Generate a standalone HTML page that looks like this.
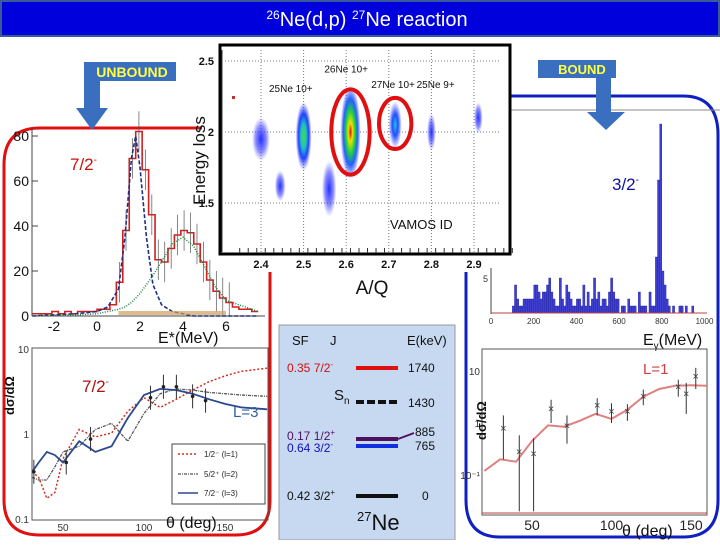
<!DOCTYPE html>
<html><head><meta charset="utf-8">
<style>
html,body{margin:0;padding:0;background:#fff;}
body{width:720px;height:540px;overflow:hidden;font-family:"Liberation Sans",sans-serif;}
svg text{font-family:"Liberation Sans",sans-serif;}
</style></head>
<body>
<svg id="s" width="720" height="540" viewBox="0 0 720 540" xmlns="http://www.w3.org/2000/svg">
<defs>
<radialGradient id="gRed"><stop offset="0" stop-color="#e00000"/><stop offset="0.2" stop-color="#f0e000"/><stop offset="0.45" stop-color="#20d040"/><stop offset="0.7" stop-color="#2060ff"/><stop offset="1" stop-color="#4040ff" stop-opacity="0"/></radialGradient>
<radialGradient id="gGreen"><stop offset="0" stop-color="#40e040"/><stop offset="0.35" stop-color="#20c0c0"/><stop offset="0.65" stop-color="#2040ff"/><stop offset="1" stop-color="#4040ff" stop-opacity="0"/></radialGradient>
<radialGradient id="gCyan"><stop offset="0" stop-color="#20c0e0"/><stop offset="0.45" stop-color="#2050ff"/><stop offset="1" stop-color="#4040ff" stop-opacity="0"/></radialGradient>
<radialGradient id="gBlue"><stop offset="0" stop-color="#2030ff"/><stop offset="0.6" stop-color="#4040ff" stop-opacity="0.6"/><stop offset="1" stop-color="#6060ff" stop-opacity="0"/></radialGradient>
</defs>

<rect x="1" y="1" width="718" height="35" fill="#0000dd" stroke="#3a5a9a" stroke-width="2"/>
<text x="367" y="26" text-anchor="middle" fill="#fff" font-size="20"><tspan font-size="12" dy="-7">26</tspan><tspan dy="7">Ne(d,p) </tspan><tspan font-size="12" dy="-7">27</tspan><tspan dy="7">Ne reaction</tspan></text>

<path d="M202,128 L40,128 Q4,128 4,165 L4,500 Q4,535 40,535 L236,535 Q270,535 270,500 L270,272" fill="none" stroke="#e01010" stroke-width="3"/>
<path d="M503,96 L683,96 Q718,96 718,135 L718,500 Q718,537 683,537 L500,537 Q466,537 466,500 L466,272" fill="none" stroke="#1020c0" stroke-width="3"/>
<line x1="503" y1="110" x2="720" y2="110" stroke="#888" stroke-width="1"/>

<g>
<rect x="84" y="62" width="92" height="19" fill="#3a6fc0"/>
<rect x="84" y="62" width="16" height="46" fill="#3a6fc0"/>
<polygon points="76,108 108,108 92,130" fill="#3a6fc0"/>
<text x="132" y="77" text-anchor="middle" fill="#ffff40" font-size="14" font-weight="bold">UNBOUND</text>
</g>
<g>
<rect x="538" y="60" width="78" height="18" fill="#3a6fc0"/>
<rect x="596" y="60" width="15" height="52" fill="#3a6fc0"/>
<polygon points="587,112 625,112 606,130" fill="#3a6fc0"/>
<text x="582" y="74" text-anchor="middle" fill="#ffff40" font-size="13" font-weight="bold">BOUND</text>
</g>

<g id="lh">
<line x1="32" y1="128" x2="32" y2="316" stroke="#444"/>
<line x1="32" y1="316" x2="265" y2="316" stroke="#444"/>
</g>
<text x="70" y="170" fill="#cc1010" font-size="17">7/2<tspan font-size="10" dy="-7">-</tspan></text>
<text x="158" y="343" fill="#111" font-size="16">E*(MeV)</text>

<g id="sc">
<rect x="220" y="45" width="290" height="209" fill="#fff" stroke="#000" stroke-width="3"/>
</g>
<text transform="translate(205,205) rotate(-90)" font-size="17" fill="#111">Energy loss</text>
<text x="372" y="294" text-anchor="middle" font-size="19" fill="#111">A/Q</text>
<text x="390" y="229" font-size="13" fill="#111">VAMOS ID</text>
<rect x="232" y="96" width="3" height="3" fill="#c03030"/>

<g id="rh">
<line x1="491" y1="268" x2="491" y2="314" stroke="#444"/>
</g>
<text x="612" y="190" fill="#1010a0" font-size="17">3/2<tspan font-size="10" dy="-7">-</tspan></text>
<text x="643" y="345" fill="#111" font-size="16">E<tspan font-size="10" dy="4">γ</tspan><tspan dy="-4">(MeV)</tspan></text>

<g id="bl">
<rect x="32" y="348" width="236" height="172" fill="none" stroke="#555"/>
</g>
<text transform="translate(14,415) rotate(-90)" font-size="13" font-weight="bold" fill="#111">dσ/dΩ</text>
<text x="82" y="392" fill="#b01010" font-size="17">7/2<tspan font-size="10" dy="-7">-</tspan></text>
<text x="233" y="417" fill="#3060a0" font-size="15">L=3</text>
<text x="166" y="528" fill="#111" font-size="16">θ (deg)</text>
<g>
<rect x="172" y="444" width="93" height="60" fill="#fff" stroke="#444"/>
<line x1="178" y1="454" x2="198" y2="454" stroke="#d03020" stroke-dasharray="2,2" stroke-width="1.5"/>
<text x="204" y="457" font-size="8" fill="#222">1/2⁻ (l=1)</text>
<line x1="178" y1="474" x2="198" y2="474" stroke="#555" stroke-dasharray="3,1,1,1" stroke-width="1.2"/>
<text x="204" y="477" font-size="8" fill="#222">5/2⁺ (l=2)</text>
<line x1="178" y1="493" x2="198" y2="493" stroke="#2a4a90" stroke-width="1.5"/>
<text x="204" y="496" font-size="8" fill="#222">7/2⁻ (l=3)</text>
</g>

<g>
<rect x="279" y="325" width="176" height="215" fill="#c6d9f1" stroke="#999"/>
<text x="292" y="345" font-size="13" fill="#111">SF</text>
<text x="330" y="345" font-size="13" fill="#111">J</text>
<text x="407" y="345" font-size="13" fill="#111">E(keV)</text>
<text x="287" y="372" font-size="12" fill="#d01010">0.35  7/2<tspan font-size="8" dy="-5">-</tspan></text>
<rect x="356" y="366" width="42" height="4" fill="#e01010"/>
<text x="408" y="372" font-size="12" fill="#111">1740</text>
<text x="334" y="400" font-size="15" fill="#111">S<tspan font-size="10" dy="4">n</tspan></text>
<line x1="356" y1="402" x2="398" y2="402" stroke="#111" stroke-width="4" stroke-dasharray="8,3"/>
<text x="408" y="407" font-size="12" fill="#111">1430</text>
<text x="287" y="440" font-size="12" fill="#501060">0.17  1/2<tspan font-size="8" dy="-5">+</tspan></text>
<rect x="356" y="437" width="42" height="4" fill="#501060"/>
<line x1="398" y1="439" x2="414" y2="433" stroke="#501060" stroke-width="2"/>
<text x="415" y="436" font-size="12" fill="#111">885</text>
<text x="287" y="452" font-size="12" fill="#1010c0">0.64  3/2<tspan font-size="8" dy="-5">-</tspan></text>
<rect x="356" y="444" width="42" height="4" fill="#1030e0"/>
<text x="415" y="450" font-size="12" fill="#111">765</text>
<text x="287" y="500" font-size="12" fill="#111">0.42  3/2<tspan font-size="8" dy="-5">+</tspan></text>
<rect x="356" y="494" width="42" height="4" fill="#111"/>
<text x="422" y="500" font-size="12" fill="#111">0</text>
<text x="357" y="530" font-size="22" fill="#111"><tspan font-size="13" dy="-9">27</tspan><tspan dy="9">Ne</tspan></text>
</g>

<g id="br">
<rect x="482" y="349" width="225" height="166" fill="none" stroke="#555"/>
</g>
<text transform="translate(486,440) rotate(-90)" font-size="13" font-weight="bold" fill="#111">dσ/dΩ</text>
<text x="643" y="374" fill="#d04040" font-size="15">L=1</text>
<text x="622" y="536" fill="#111" font-size="16">θ (deg)</text>
</svg>

<script>
// ---------- Left histogram data ----------
const eBins = [-3,-2.7,-2.4,-2.1,-1.8,-1.5,-1.2,-0.9,-0.6,-0.3,0,0.3,0.6,0.9,1.2,1.5,1.8,2.1,2.4,2.7,3.0,3.3,3.6,3.9,4.2,4.5,4.8,5.1,5.4,5.7,6.0,6.3,6.6,6.9,7.2];
const eCounts = [1,1,1,2,1,2,1,2,2,2,3,3,5,15,38,70,82,65,45,25,24,30,36,38,37,32,24,16,11,8,6,4,3,3,2];
const eFitX = [-3,-1,0,0.5,1,1.3,1.6,1.8,2.0,2.3,2.6,3.0,3.5,4.0,4.5,5.0,5.5,6.0,7.5];
const eFitBlue = [0,1,2,4,12,35,70,80,66,35,14,5,2,1,0,0,0,0,0];
const eFitGreen = [0,0.5,1,2,3,4,6,8,10,14,18,24,32,35,31,22,13,7,2];
const eTicks = [-2,0,2,4,6];
const cTicks = [0,20,40,60,80];
const xE = v => 97 + v*21.5;
const yC = v => 316 - v*2.25;
const NS='http://www.w3.org/2000/svg';
function mk(tag, attrs, parent){const e=document.createElementNS(NS,tag);for(const k in attrs)e.setAttribute(k,attrs[k]);(parent||document.getElementById('s')).appendChild(e);return e;}
const lh=document.getElementById('lh');
eTicks.forEach(t=>{const tx=mk('text',{x:xE(t),y:331,'text-anchor':'middle','font-size':14,fill:'#111'},lh);tx.textContent=t;

});
cTicks.forEach(t=>{mk('line',{x1:32,y1:yC(t),x2:38,y2:yC(t),stroke:'#444'},lh);const tx=mk('text',{x:29,y:yC(t)+5,'text-anchor':'end','font-size':14,fill:'#111'},lh);tx.textContent=t;

});
let d='';eBins.forEach((b,i)=>{const x0=xE(b),x1=xE(b+0.3),y=yC(eCounts[i]);d+=(i?'L':'M')+x0+','+y+' L'+x1+','+y;});
const hp=mk('path',{d:d,fill:'none',stroke:'#d02020','stroke-width':1.6},lh);


eBins.forEach((b,i)=>{if(eCounts[i]>5){const x=xE(b+0.15);mk('line',{x1:x,y1:yC(eCounts[i]+9),x2:x,y2:yC(Math.max(eCounts[i]-9,0)),stroke:'#555','stroke-width':0.7},lh);}});
const fb=mk('path',{d:eFitX.map((v,i)=>(i?'L':'M')+xE(v)+','+yC(eFitBlue[i])).join(' '),fill:'none',stroke:'#203080','stroke-width':1.6,'stroke-dasharray':'4,2'},lh);


const fg=mk('path',{d:eFitX.map((v,i)=>(i?'L':'M')+xE(v)+','+yC(eFitGreen[i])).join(' '),fill:'none',stroke:'#208040','stroke-width':1.5,'stroke-dasharray':'1,1.5'},lh);


mk('rect',{x:xE(1),y:311,width:xE(6)-xE(1),height:4,fill:'#d0a060',opacity:0.7},lh);

// ---------- Scatter plot ----------
const blobAQ = [2.40,2.50,2.445,2.56,2.61,2.715,2.80,2.91];
const blobDE = [1.95,1.97,1.62,1.60,2.00,2.05,2.00,2.10];
const blobRx = [0.025,0.022,0.015,0.02,0.028,0.018,0.012,0.012];
const blobRy = [0.14,0.22,0.1,0.18,0.3,0.15,0.12,0.1];
const blobGrad = ['gBlue','gGreen','gBlue','gBlue','gRed','gCyan','gBlue','gBlue'];
const aqTicks=[2.4,2.5,2.6,2.7,2.8,2.9];
const deTicks=[1.5,2,2.5];
const xA=v=>261+(v-2.4)*426;
const yD=v=>132-(v-2)*142;
const sc=document.getElementById('sc');
aqTicks.forEach(t=>{mk('line',{x1:xA(t),y1:50,x2:xA(t),y2:252,stroke:'#777','stroke-dasharray':'1,2'},sc);const tx=mk('text',{x:xA(t),y:268,'text-anchor':'middle','font-size':11,'font-weight':'bold',fill:'#111'},sc);tx.textContent=t;

});
for(let v=2.35;v<3.0;v+=0.02){mk('line',{x1:xA(v),y1:253,x2:xA(v),y2:248,stroke:'#333'},sc);}
deTicks.forEach(t=>{mk('line',{x1:225,y1:yD(t),x2:500,y2:yD(t),stroke:'#777','stroke-dasharray':'1,2'},sc);const tx=mk('text',{x:214,y:yD(t)+4,'text-anchor':'end','font-size':11,'font-weight':'bold',fill:'#111'},sc);tx.textContent=t;

});
mk('line',{x1:222,y1:50,x2:222,y2:252,stroke:'#333'},sc);
blobAQ.forEach((a,i)=>{const e=mk('ellipse',{cx:xA(a),cy:yD(blobDE[i]),rx:blobRx[i]*426*0.85,ry:blobRy[i]*142*1.1,fill:'url(#'+blobGrad[i]+')'},sc);

});
[[2.61,2.0,0.045,0.3],[2.715,2.06,0.038,0.18]].forEach(c=>{const e=mk('ellipse',{cx:xA(c[0]),cy:yD(c[1]),rx:c[2]*426,ry:c[3]*142,fill:'none',stroke:'#e01010','stroke-width':4},sc);

});
[['25Ne 10+',2.47,2.28],['26Ne 10+',2.60,2.42],['27Ne 10+',2.71,2.31],['25Ne 9+',2.81,2.31]].forEach(l=>{const t=mk('text',{x:xA(l[1]),y:yD(l[2]),'font-size':10,fill:'#111','text-anchor':'middle'},sc);t.textContent=l[0];

});

// ---------- Right histogram (10 keV bins from 100 keV) ----------
const gStart=100;
const gCounts=[1,4,2,1,1,2,2,2,2,2,4,4,3,2,3,3,4,5,3,2,1,1,5,2,1,4,3,2,1,1,2,2,1,4,1,3,1,2,5,2,3,1,2,2,1,3,5,3,2,2,0,1,1,0,2,1,1,1,0,3,1,1,1,0,3,1,1,8,19,27,6,4,2,1,0,1,0,0,1,1,0,1,0,0,1,0];
const gTicks=[0,200,400,600,800,1000];
const xG=v=>491+v*0.2135;
const yG=v=>313-v*7;
const rh=document.getElementById('rh');
gCounts.forEach((c,i)=>{if(c<=0)return;const b=gStart+i*10;const r=mk('rect',{x:xG(b),y:yG(c),width:xG(b+10)-xG(b),height:313-yG(c),fill:'#4040d0',stroke:'#2020a0','stroke-width':0.4},rh);

});
gTicks.forEach(t=>{const tx=mk('text',{x:xG(t),y:324,'text-anchor':'middle','font-size':8,fill:'#333'},rh);tx.textContent=t;

});
mk('line',{x1:491,y1:313,x2:707,y2:313,stroke:'#c04040'},rh);
const t5=mk('text',{x:488,y:yG(5)+4,'text-anchor':'end','font-size':9,fill:'#333'},rh);t5.textContent='5';

// ---------- Bottom-left angular distribution ----------
const thL=[31,35,40,45,50,60,70,80,90,100,110,120,130,140,150,160,176];
const lRed=[0.35,0.3,0.17,0.2,0.5,1.1,0.9,1.0,1.8,2.6,2.0,2.5,3.2,4.0,4.7,5.3,5.8];
const lBlue=[0.35,0.45,0.6,0.55,0.45,0.8,0.6,0.7,1.5,2.8,3.3,3.2,2.9,2.5,2.2,2.0,1.9];
const lGray=[0.3,0.28,0.28,0.4,0.6,0.7,1.1,1.3,0.8,1.7,2.9,3.3,3.2,3.0,2.9,2.8,2.7];
const lPtsTh=[32,52,67,104,112,120,130,138];
const lPtsV=[0.35,0.45,0.85,2.6,3.5,3.5,2.7,2.4];
const lTicks=[50,100,150];
const xL=v=>63+(v-50)*1.62;
const yL=v=>433-Math.log10(v)*85;
const bl=document.getElementById('bl');
[0.1,1,10].forEach(t=>{const tx=mk('text',{x:29,y:yL(t)+5,'text-anchor':'end','font-size':10,fill:'#333'},bl);tx.textContent=t;

});
lTicks.forEach(t=>{const tx=mk('text',{x:xL(t),y:531,'text-anchor':'middle','font-size':10,fill:'#333'},bl);tx.textContent=t;

});
function curve(xs,ys,fx,fy,attrs,name,g){const p=mk('path',Object.assign({d:xs.map((v,i)=>(i?'L':'M')+fx(v).toFixed(1)+','+fy(ys[i]).toFixed(1)).join(' '),fill:'none'},attrs),g);

}
curve(thL,lRed,xL,yL,{stroke:'#d03020','stroke-width':1.5,'stroke-dasharray':'2,2'},'curve-l1',bl);
curve(thL,lGray,xL,yL,{stroke:'#555','stroke-width':1.3,'stroke-dasharray':'3,1,1,1'},'curve-l2',bl);
curve(thL,lBlue,xL,yL,{stroke:'#2a4a90','stroke-width':1.8},'curve-l3',bl);
lPtsTh.forEach((t,i)=>{const x=xL(t),y=yL(lPtsV[i]);mk('line',{x1:x,y1:y-12,x2:x,y2:y+12,stroke:'#333'},bl);const c=mk('circle',{cx:x,cy:y,r:1.8,fill:'#222'},bl);

});

// ---------- Bottom-right angular distribution ----------
const thR=[20,30,40,50,60,70,80,90,100,110,120,130,140,150,160];
const rCurve=[0.12,0.2,0.18,0.45,0.9,0.85,1.1,1.5,1.2,1.8,3.2,4.5,5.2,5.3,5.2];
const rPtsTh=[32,42,51,62,72,91,100,110,120,142,147,153];
const rPtsV=[0.8,0.28,0.26,1.9,0.9,2.2,1.7,1.7,3.3,5,3.7,8];
const rErr=[0.6,0.3,0.25,0.9,0.5,0.8,0.7,0.6,1.1,1.8,2.2,3.5];
const rTicks=[50,100,150];
const xR=v=>532+(v-50)*1.59;
const yR=v=>423-Math.log10(v)*52;
const br=document.getElementById('br');
[[0.1,'10⁻¹'],[1,'1'],[10,'10']].forEach(t=>{const tx=mk('text',{x:480,y:yR(t[0])+4,'text-anchor':'end','font-size':10,fill:'#333'},br);tx.textContent=t[1];

});
rTicks.forEach(t=>{const tx=mk('text',{x:xR(t),y:530,'text-anchor':'middle','font-size':14,fill:'#222'},br);tx.textContent=t;

});
mk('line',{x1:482,y1:513,x2:707,y2:513,stroke:'#c04040'},br);
curve(thR,rCurve,xR,yR,{stroke:'#e08080','stroke-width':2},'curve-l1-fit',br);
rPtsTh.forEach((t,i)=>{const x=xR(t),y=yR(rPtsV[i]);const lo=Math.max(rPtsV[i]-rErr[i],0.02);mk('line',{x1:x,y1:yR(rPtsV[i]+rErr[i]),x2:x,y2:yR(lo),stroke:'#333'},br);const c=mk('text',{x:x,y:y+4,'text-anchor':'middle','font-size':11,fill:'#444'},br);c.textContent='×';

});
</script>
</body></html>
